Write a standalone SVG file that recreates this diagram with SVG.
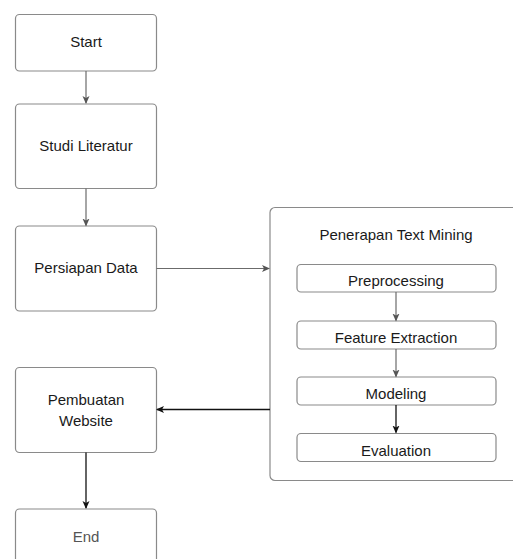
<svg xmlns="http://www.w3.org/2000/svg" width="513" height="559" viewBox="0 0 513 559">
<defs>
<style>
.box{fill:#fff;stroke:#8a8a8a;stroke-width:1.2}
.t{font-family:"Liberation Sans",Arial,sans-serif;font-size:15px;fill:#1a1a1a;text-anchor:middle}
.c{fill:none;stroke:#6b6b6b;stroke-width:1.2}
.k{fill:none;stroke:#111;stroke-width:1.3}
</style>
<marker id="ag" markerWidth="8" markerHeight="8" refX="7" refY="4" orient="auto" markerUnits="userSpaceOnUse"><path d="M0,0.5 L8,4 L0,7.5 L2,4 Z" fill="#555"/></marker>
<marker id="ak" markerWidth="8" markerHeight="8" refX="7" refY="4" orient="auto" markerUnits="userSpaceOnUse"><path d="M0,0.5 L8,4 L0,7.5 L2,4 Z" fill="#111"/></marker>
</defs>
<rect width="513" height="559" fill="#fff"/>
<g id="start"><rect class="box" x="15.5" y="14.5" width="141" height="56.5" rx="4"/><text class="t" x="86" y="47">Start</text></g>
<g id="studi"><rect class="box" x="15.5" y="104" width="141" height="84.5" rx="4"/><text class="t" x="86" y="151">Studi Literatur</text></g>
<g id="persiapan"><rect class="box" x="15.5" y="226" width="141" height="85" rx="4"/><text class="t" x="86" y="273">Persiapan Data</text></g>
<g id="textmining"><rect class="box" x="270" y="207.5" width="260" height="273" rx="5"/><text class="t" x="396" y="240">Penerapan Text Mining</text></g>
<g id="preprocessing"><rect class="box" x="297" y="264.5" width="199" height="27.5" rx="4"/><text class="t" x="396" y="286">Preprocessing</text></g>
<g id="feature"><rect class="box" x="297" y="321" width="199" height="28" rx="4"/><text class="t" x="396" y="343">Feature Extraction</text></g>
<g id="modeling"><rect class="box" x="297" y="377" width="199" height="28" rx="4"/><text class="t" x="396" y="399">Modeling</text></g>
<g id="evaluation"><rect class="box" x="297" y="433.5" width="199" height="28" rx="4"/><text class="t" x="396" y="456">Evaluation</text></g>
<g id="pembuatan"><rect class="box" x="15.5" y="367.5" width="141" height="85" rx="4"/><text class="t" x="86" y="405">Pembuatan</text><text class="t" x="86" y="426">Website</text></g>
<g id="end"><rect class="box" x="15.5" y="509" width="141" height="70" rx="4"/><text class="t" x="86" y="542" style="fill:#555">End</text></g>
<g id="connectors">
<path class="c" d="M86,71 V103" marker-end="url(#ag)"/>
<path class="c" d="M86,188.5 V225.5" marker-end="url(#ag)"/>
<path class="c" d="M156.5,268.5 H269" marker-end="url(#ag)"/>
<path class="k" d="M270,409.5 H157" marker-end="url(#ak)"/>
<path class="k" d="M86,452.5 V508" marker-end="url(#ak)"/>
<path class="c" d="M396,292 V320.5" marker-end="url(#ag)"/>
<path class="c" d="M396,349 V376.5" marker-end="url(#ag)"/>
<path class="k" d="M396,405 V432.5" marker-end="url(#ak)"/>
</g>
</svg>
